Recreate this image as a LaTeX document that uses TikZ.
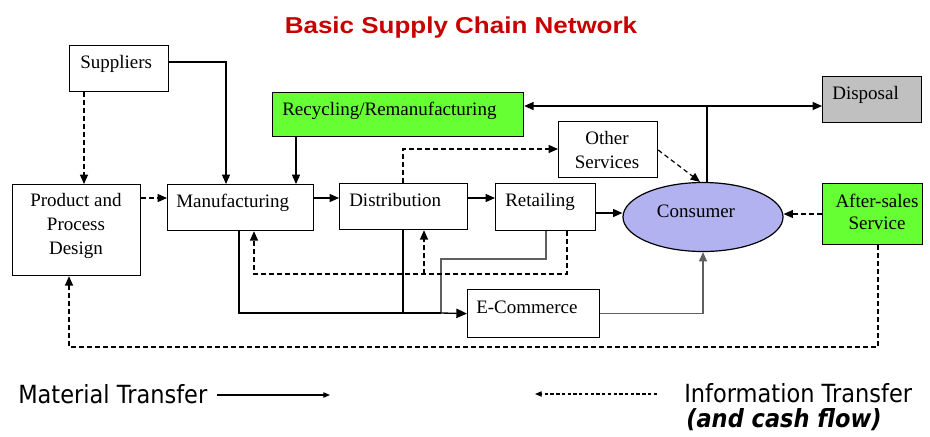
\documentclass[tikz,border=0pt]{standalone}
\usepackage{fontspec}
\setmainfont{Liberation Serif}
\newfontfamily\titlefont[FakeStretch=1.13]{Liberation Sans}
\newfontfamily\legendfont[FakeStretch=0.9, BoldFont={DejaVu Sans Bold}, ItalicFont={DejaVu Sans Oblique}, BoldItalicFont={DejaVu Sans Bold Oblique}]{DejaVu Sans}
\usetikzlibrary{arrows.meta, shapes.geometric}
\definecolor{boxgreen}{RGB}{102,255,51}
\definecolor{consumerfill}{RGB}{178,178,240}
\definecolor{disposalgray}{RGB}{192,192,192}
\definecolor{titlered}{RGB}{200,0,0}
\definecolor{darkline}{RGB}{95,95,95}
\begin{document}
\begin{tikzpicture}[x=0.75pt, y=-0.75pt,
  box/.style={draw, line width=0.9pt, inner sep=0pt, anchor=north west, fill=white},
  lbl/.style={inner sep=0pt, font=\fontsize{14.25pt}{17pt}\selectfont},
  leg/.style={inner sep=0pt, anchor=base west, font=\legendfont\fontsize{18.75pt}{22pt}\selectfont},
  arr/.style={line width=0.9pt, -{Triangle[length=7pt,width=6pt]}},
  plain/.style={line width=0.9pt},
  dsh/.style={dash pattern=on 3.5pt off 2.5pt}
]
\useasboundingbox (0,0) rectangle (930,436);

% title
\node[anchor=base, inner sep=0pt, text=titlered, font=\titlefont\bfseries\fontsize{17.25pt}{20pt}\selectfont] (title) at (461,33) {Basic Supply Chain Network};

% boxes
\node[box, minimum width=74.25pt, minimum height=34.5pt] (sup) at (69,45) {};
\node[box, minimum width=96pt, minimum height=68.25pt] (des) at (12,184) {};
\node[box, minimum width=109.5pt, minimum height=34.5pt] (man) at (167,184) {};
\node[box, fill=boxgreen, minimum width=188.25pt, minimum height=33pt] (rec) at (272,92) {};
\node[box, minimum width=96pt, minimum height=34.5pt] (dis) at (339,183) {};
\node[box, minimum width=75pt, minimum height=35.25pt] (ret) at (495,183) {};
\node[box, minimum width=99pt, minimum height=36pt] (ecom) at (467,289) {};
\node[box, minimum width=74.25pt, minimum height=42pt] (oth) at (558,121) {};
\node[draw, ellipse, line width=0.9pt, fill=consumerfill, inner sep=0pt, minimum width=120pt, minimum height=51.75pt] (con) at (703,217) {};
\node[box, fill=disposalgray, minimum width=74.25pt, minimum height=34.5pt] (dsp) at (822,76) {};
\node[box, fill=boxgreen, minimum width=75pt, minimum height=45.75pt] (aft) at (822,183) {};

% box texts
\node[lbl, anchor=base west] (tsup) at (80,68) {Suppliers};
\node[lbl, anchor=base] (tdes1) at (76,206) {Product and};
\node[lbl, anchor=base] (tdes2) at (76,230) {Process};
\node[lbl, anchor=base] (tdes3) at (76,254) {Design};
\node[lbl, anchor=base west] (tman) at (176,207) {Manufacturing};
\node[lbl, anchor=base west] (trec) at (282,115) {Recycling/Remanufacturing};
\node[lbl, anchor=base west] (tdis) at (349,206) {Distribution};
\node[lbl, anchor=base west] (tret) at (505,206) {Retailing};
\node[lbl, anchor=base west] (tecom) at (476,313) {E-Commerce};
\node[lbl, anchor=base] (toth1) at (607,144) {Other};
\node[lbl, anchor=base] (toth2) at (607,168) {Services};
\node[lbl, anchor=base] (tcon) at (696,217) {Consumer};
\node[lbl, anchor=base west] (tdsp) at (832,99) {Disposal};
\node[lbl, anchor=base] (taft1) at (877,207) {After-sales};
\node[lbl, anchor=base] (taft2) at (877,229) {Service};

% material flows (grey ones first, so the black lines lie on top)
\draw[plain, color=darkline] (546,0 |- ret.south) -- (546,259) -- (441,259) -- (441,313);
\draw[arr, color=darkline] (ecom.east) -| (con.south);
\draw[arr] (sup.east |- 0,62) -| (226,0 |- man.north);
\draw[arr] (296,0 |- rec.south) -- (296,0 |- man.north);
\draw[arr] (man.east |- 0,198) -- (dis.west |- 0,198);
\draw[arr] (dis.east |- 0,198) -- (ret.west |- 0,198);
\draw[arr] (ret.east |- 0,213) -- (con.west |- 0,213);
\coordinate (j) at (707,106);
\draw[plain] (707,0 |- con.north) -- (j);
\draw[arr] (j) -- (rec.east |- j);
\draw[arr] (j) -- (dsp.west |- j);
\coordinate (eb) at (239,313);
\coordinate (ea) at (441,313);
\draw[plain] (403,0 |- dis.south) -- (403,313);
\draw[plain] (239,0 |- man.south) -- (eb) -- (ea);

% information flows
\draw[arr, dsh] (84,0 |- sup.south) -- (84,0 |- des.north);
\draw[arr, dsh] (des.east |- 0,198) -- (man.west |- 0,198);
\draw[arr, dsh] (403,0 |- dis.north) |- (oth.west |- 0,149);
\draw[arr, dsh] (oth.east |- 0,150) -- (700,0 |- con.north);
\draw[arr, dsh] (aft.west |- 0,214) -- (con.east |- 0,214);
\draw[arr, dsh] (878,0 |- aft.south) -- (878,347) -| (69,0 |- des.south);
\draw[arr, dsh] (567,0 |- ret.south) -- (567,274) -| (254,0 |- man.south);
\coordinate (k) at (424,274);
\draw[arr, dsh] (k) -- (424,0 |- dis.south);

% merged flow into E-Commerce, drawn last
\draw[line width=1pt, -{Triangle[length=8pt,width=7pt]}] (ea) -- (ecom.west);

% legend
\node[leg] (lmat) at (18,403) {Material Transfer};
\node[leg] (linf) at (684,402) {Information Transfer};
\node[leg, font=\legendfont\bfseries\itshape\fontsize{18.75pt}{22pt}\selectfont] (lcash) at (686,427) {(and cash flow)};
\coordinate (m1) at (217,395);
\coordinate (m2) at (330,395);
\draw[line width=0.8pt, -{Triangle[length=5pt,width=4pt]}] (m1) -- (m2);
\coordinate (i1) at (657,394);
\coordinate (i2) at (535,394);
\draw[line width=0.8pt, dash pattern=on 2.5pt off 1.8pt, -{Triangle[length=5pt,width=4pt]}] (i1) -- (i2);
\end{tikzpicture}
\end{document}
